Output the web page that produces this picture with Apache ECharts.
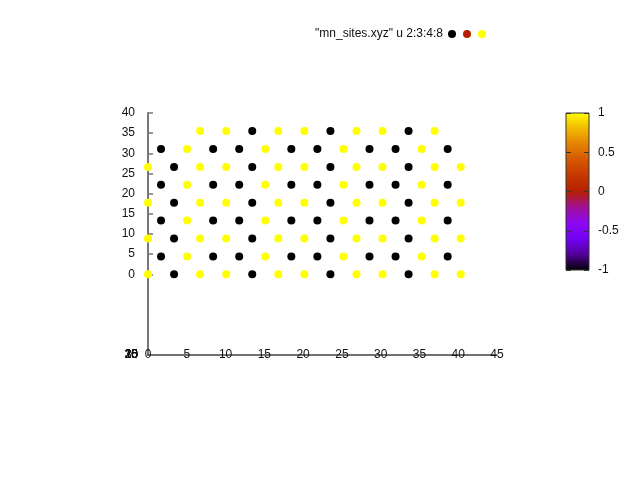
<!DOCTYPE html>
<html>
<head>
<meta charset="utf-8">
<script src="https://cdn.jsdelivr.net/npm/echarts@6/dist/echarts.min.js"></script>
<style>html,body{margin:0;padding:0;background:#fff}#c{width:640px;height:480px}</style>
</head>
<body>
<div id="c"></div>
<script>
// Row heights (z) of the lattice rows
var rowZ = [0, 4.44, 8.88, 13.32, 17.76, 22.2, 26.64, 31.08, 35.52];
// Even rows (z index 0,2,4,6): x positions and spin values
var xEven = [0, 3.36, 6.72, 10.08, 13.44, 16.8, 20.16, 23.52, 26.88, 30.24, 33.6, 36.96, 40.32];
var spinEven = [1, -1, 1, 1, -1, 1, 1, -1, 1, 1, -1, 1, 1];
// Odd rows (z index 1,3,5,7)
var xOdd = [1.68, 5.04, 8.4, 11.76, 15.12, 18.48, 21.84, 25.2, 28.56, 31.92, 35.28, 38.64];
var spinOdd = [-1, 1, -1, -1, 1, -1, -1, 1, -1, -1, 1, -1];
// Top row (z index 8)
var xTop = [6.72, 10.08, 13.44, 16.8, 20.16, 23.52, 26.88, 30.24, 33.6, 36.96];
var spinTop = [1, 1, -1, 1, 1, -1, 1, 1, -1, 1];
// Tick labels
var xTicks = [0, 5, 10, 15, 20, 25, 30, 35, 40, 45];
var depthTicks = ['0', '5', '10', '15', '20', '25', '30', '35'];
var keyLabel = '"mn_sites.xyz" u 2:3:4:8';

var palette = ['#000000', '#510096', '#7202f3', '#8c07f3', '#a11096', '#b42000', '#c63700', '#d55700', '#e48300', '#f2ba00', '#ffff00'];

var points = [];
function addRow(xs, ss, z) { for (var i = 0; i < xs.length; i++) points.push([xs[i], z, ss[i]]); }
for (var r = 0; r < rowZ.length; r++) {
  if (r === 8) addRow(xTop, spinTop, rowZ[r]);
  else if (r % 2 === 0) addRow(xEven, spinEven, rowZ[r]);
  else addRow(xOdd, spinOdd, rowZ[r]);
}

var FONT = 'Liberation Sans, Arial, sans-serif';
var chart = echarts.init(document.getElementById('c'), null, {renderer: 'canvas'});

var graphics = [];
for (var i = 0; i < depthTicks.length; i++) {
  graphics.push({type: 'text', x: 138, y: 355, style: {text: depthTicks[i], align: 'right', verticalAlign: 'middle', font: '12px ' + FONT, fill: '#111'}, z: 10});
}
graphics.push({type: 'text', x: 443, y: 34, style: {text: keyLabel, align: 'right', verticalAlign: 'middle', font: '12px ' + FONT, fill: '#111'}});
var keyCols = [palette[0], palette[5], palette[10]];
for (var j = 0; j < keyCols.length; j++) {
  graphics.push({type: 'circle', shape: {cx: 452 + j * 15, cy: 34, r: 4}, style: {fill: keyCols[j]}});
}

var gradStops = palette.map(function (c, i) { return {offset: 1 - i / (palette.length - 1), color: c}; });
var cbRect = {left: 566, top: 113, width: 23, height: 157};

chart.setOption({
  animation: false,
  backgroundColor: '#fff',
  grid: [
    {left: 148, top: 113, width: 349, height: 242, show: false},
    Object.assign({show: true, borderColor: '#333', borderWidth: 1,
     backgroundColor: {type: 'linear', x: 0, y: 0, x2: 0, y2: 1, colorStops: gradStops}}, cbRect),
    {left: 148, top: 113, width: 349, height: 161.33, show: false},
    Object.assign({show: false}, cbRect),
    {left: 589, top: 113, width: 10, height: 157, show: false}
  ],
  xAxis: [
    {gridIndex: 0, type: 'value', min: 0, max: 45, interval: 5,
     axisLine: {show: true, onZero: false, lineStyle: {color: '#444', width: 1.5}},
     axisTick: {show: false}, splitLine: {show: false},
     axisLabel: {margin: -6, color: '#111', fontSize: 12, fontFamily: FONT, customValues: xTicks}},
    {gridIndex: 1, type: 'value', min: 0, max: 1, show: false},
    {gridIndex: 2, type: 'value', min: 0, max: 45, show: false},
    {gridIndex: 3, type: 'value', min: 0, max: 1, show: false},
    {gridIndex: 4, type: 'value', min: 0, max: 1, show: false}
  ],
  yAxis: [
    {gridIndex: 0, type: 'value', min: -20, max: 40, interval: 5,
     axisLine: {show: true, onZero: false, lineStyle: {color: '#777', width: 2}},
     axisTick: {show: false}, splitLine: {show: false}, axisLabel: {show: false}},
    {gridIndex: 1, type: 'value', min: -1, max: 1, interval: 0.5, position: 'left',
     axisLine: {show: false}, splitLine: {show: false},
     axisTick: {show: true, inside: true, length: 5, lineStyle: {color: '#333'}},
     axisLabel: {show: false}},
    {gridIndex: 2, type: 'value', min: 0, max: 40, interval: 5, position: 'left',
     axisLine: {show: false}, splitLine: {show: false},
     axisTick: {show: true, inside: true, length: 5, lineStyle: {color: '#777', width: 1.5}},
     axisLabel: {margin: 13, color: '#111', fontSize: 12, fontFamily: FONT}},
    {gridIndex: 3, type: 'value', min: -1, max: 1, interval: 0.5, position: 'right',
     axisLine: {show: false}, splitLine: {show: false},
     axisTick: {show: false},
     axisLabel: {margin: 9, color: '#111', fontSize: 12, fontFamily: FONT}},
    {gridIndex: 4, type: 'value', min: -1, max: 1, interval: 0.5, position: 'left',
     axisLine: {show: false}, splitLine: {show: false},
     axisTick: {show: true, inside: false, length: 5, lineStyle: {color: '#333'}},
     axisLabel: {show: false}}
  ],
  visualMap: {show: false, type: 'continuous', min: -1, max: 1, dimension: 2, seriesIndex: 0,
    inRange: {color: palette}},
  series: [{
    type: 'scatter', xAxisIndex: 0, yAxisIndex: 0, data: points,
    symbol: 'circle', symbolSize: 8, itemStyle: {opacity: 1}
  }],
  graphic: graphics
});
</script>
</body>
</html>
